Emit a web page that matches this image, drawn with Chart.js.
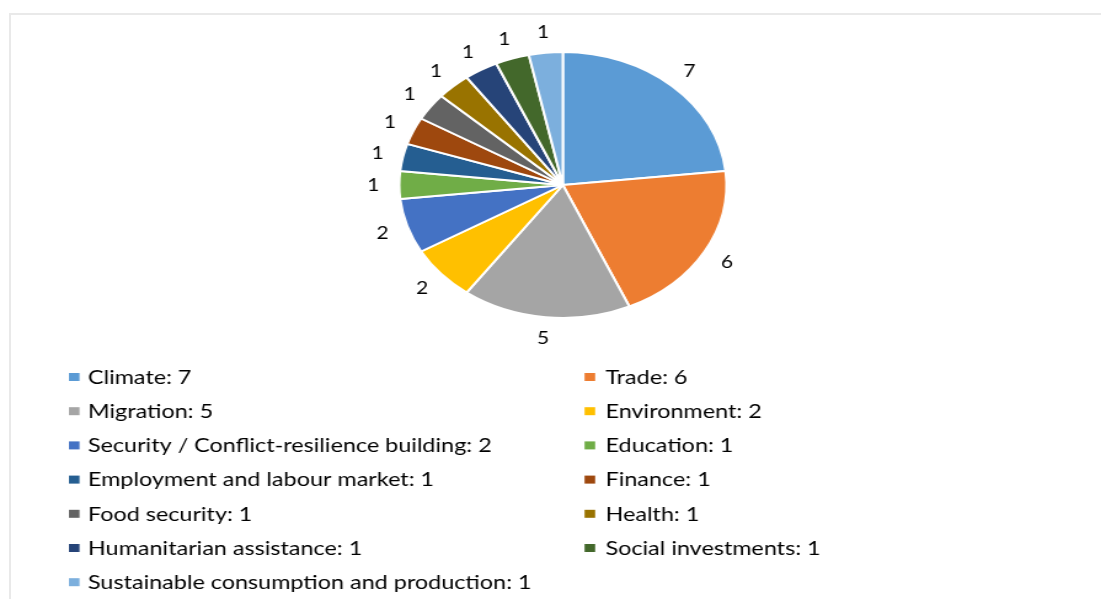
<!DOCTYPE html>
<html>
<head>
<meta charset="utf-8">
<script src="https://cdn.jsdelivr.net/npm/chart.js@4/dist/chart.umd.min.js"></script>
<style>
	html, body { margin: 0; padding: 0; background: #fff; overflow: hidden; }
	#frame {
		position: absolute; left: 9px; top: 13px; width: 1200px; height: 700px;
		border-top: 2px solid #e9e9e9; border-left: 2px solid #e9e9e9;
	}
	#wrap {
		position: absolute; left: 0; top: 0;
		transform: scaleX(1.2302); transform-origin: 0 0;
	}
</style>
</head>
<body>
<div id="frame"></div>
<div id="wrap"><canvas id="chart" width="895" height="599"></canvas></div>
<script>

var topics = ['Climate', 'Trade', 'Migration', 'Environment', 'Security / Conflict-resilience building',
	'Education', 'Employment and labour market', 'Finance', 'Food security', 'Health',
	'Humanitarian assistance', 'Social investments', 'Sustainable consumption and production'];
var counts = [7, 6, 5, 2, 2, 1, 1, 1, 1, 1, 1, 1, 1];
var colours = ['#5B9BD5', '#ED7D31', '#A5A5A5', '#FFC000', '#4472C4', '#70AD47', '#255E91',
	'#9E480E', '#636363', '#997300', '#264478', '#43682B', '#7CAFDD'];

// value labels just outside each slice
var sliceLabels = {
	id: 'sliceLabels',
	afterDatasetsDraw: function (chart) {
		var ctx = chart.ctx,
			meta = chart.getDatasetMeta(0);
		ctx.save();
		ctx.font = '17px Lato';
		ctx.fillStyle = '#000';
		ctx.textAlign = 'center';
		ctx.textBaseline = 'alphabetic';
		meta.data.forEach(function (arc, i) {
			var mid = (arc.startAngle + arc.endAngle) / 2,
				r = arc.outerRadius + 21;
			ctx.fillText(String(chart.data.datasets[0].data[i]),
				arc.x + Math.cos(mid) * r, arc.y + Math.sin(mid) * r + 6);
		});
		ctx.restore();
	}
};

// two column legend under the pie
var gridLegend = {
	id: 'gridLegend',
	afterDraw: function (chart) {
		var ctx = chart.ctx,
			ds = chart.data.datasets[0];
		ctx.save();
		ctx.font = '19px Lato';
		ctx.textBaseline = 'alphabetic';
		ctx.textAlign = 'left';
		chart.data.labels.forEach(function (label, i) {
			var col = i % 2,
				row = Math.floor(i / 2),
				y = 377 + row * 34.2,
				bx = col ? 475.2 : 56,
				tx = col ? 492.2 : 71.5;
			ctx.fillStyle = ds.backgroundColor[i];
			ctx.fillRect(bx, y - 4, 8.6, 8);
			ctx.fillStyle = '#000';
			ctx.fillText(label + ': ' + ds.data[i], tx, y + 6.8);
		});
		ctx.restore();
	}
};

var chart = document.getElementById('chart').getContext('2d');

var data = {
	labels: topics,
	datasets: [{
		data: counts,
		backgroundColor: colours,
		borderColor: '#ffffff',
		borderWidth: 2
	}]
};
var options = {
	responsive: false,
	animation: false,
	layout: {
		padding: { top: 51, bottom: 280, left: 200, right: 180 }
	},
	plugins: {
		legend: { display: false },
		tooltip: { enabled: false }
	}
};
var chartInstance = new Chart(chart, {
	type: 'pie',
	data: data,
	options: options,
	plugins: [sliceLabels, gridLegend]
});
</script>
</body>
</html>
